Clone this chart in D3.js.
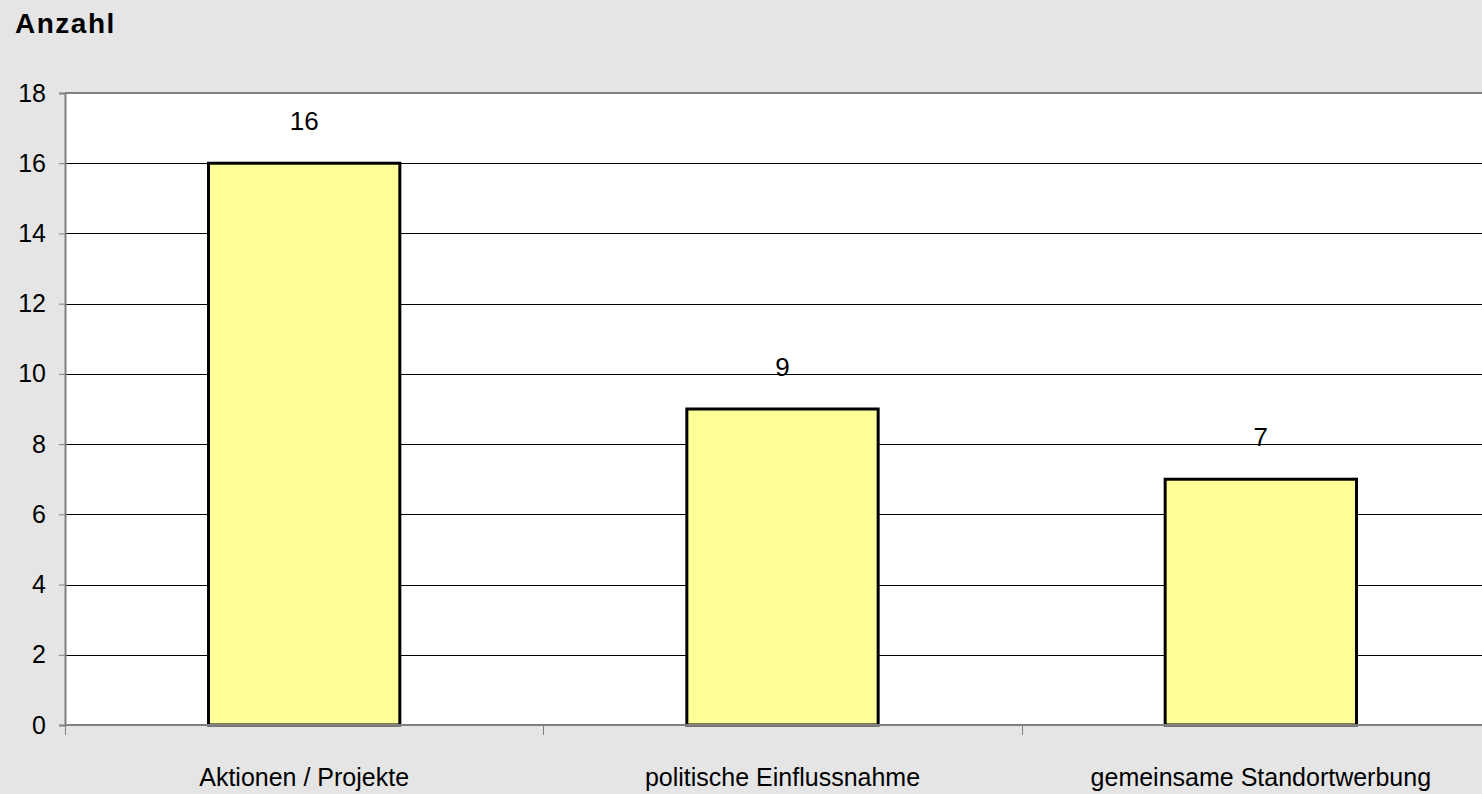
<!DOCTYPE html>
<html lang="de">
<head>
<meta charset="UTF-8">
<script src="https://d3js.org/d3.v7.min.js"></script>
<title>Anzahl</title>
<style>
    body { margin: 0; background: #e5e5e5; }
    svg { display: block; }
    text { font-family: "Liberation Sans", Arial, sans-serif; fill: #000; }
</style>
</head>
<body>
<div id="chart"></div>
<script>
// chart data
var categories = ["Aktionen / Projekte", "politische Einflussnahme", "gemeinsame Standortwerbung"];
var counts = [16, 9, 7];
var yTicks = [0, 2, 4, 6, 8, 10, 12, 14, 16, 18];

var width = 1482, height = 794;
var margin = {top: 93, left: 65, bottom: 69};
var plotRight = 1500; // plot area runs past the window edge

var svg = d3.select("#chart").append("svg")
    .attr("width", width)
    .attr("height", height);

var x = d3.scaleBand()
    .domain(categories)
    .range([margin.left, plotRight])
    .paddingInner(0)
    .paddingOuter(0);

var y = d3.scaleLinear()
    .domain([0, 18])
    .range([height - margin.bottom, margin.top]);

// plot background
svg.append("rect")
    .attr("x", margin.left)
    .attr("y", y(18))
    .attr("width", plotRight - margin.left)
    .attr("height", y(0) - y(18))
    .attr("fill", "#fff");

// gridlines
svg.append("g")
    .selectAll("line")
    .data(yTicks.filter(function (d) { return d > 0 && d < 18; }))
    .enter().append("line")
    .attr("x1", margin.left)
    .attr("x2", plotRight)
    .attr("y1", function (d) { return Math.round(y(d)) + 0.5; })
    .attr("y2", function (d) { return Math.round(y(d)) + 0.5; })
    .attr("stroke", "#000")
    .attr("stroke-width", 1);

// top border of plot
svg.append("line")
    .attr("x1", margin.left).attr("x2", plotRight)
    .attr("y1", y(18)).attr("y2", y(18))
    .attr("stroke", "#808080").attr("stroke-width", 2);

// bars
svg.append("g")
    .selectAll("rect")
    .data(counts)
    .enter().append("rect")
    .attr("x", function (d, i) { return x(categories[i]) + x.bandwidth() * 0.3; })
    .attr("width", x.bandwidth() * 0.4)
    .attr("y", function (d) { return y(d); })
    .attr("height", function (d) { return y(0) - y(d); })
    .attr("fill", "#ffff99")
    .attr("stroke", "#000")
    .attr("stroke-width", 3);

// value labels
svg.append("g")
    .selectAll("text")
    .data(counts)
    .enter().append("text")
    .attr("x", function (d, i) { return x(categories[i]) + x.bandwidth() / 2; })
    .attr("y", function (d) { return y(d) - 33; })
    .attr("text-anchor", "middle")
    .style("font-size", "26px")
    .text(function (d) { return d; });

// y axis
var yAxis = svg.append("g")
    .attr("transform", "translate(" + margin.left + ",0)")
    .call(d3.axisLeft(y).tickValues(yTicks).tickSize(6).tickPadding(13));
yAxis.select(".domain").attr("stroke", "#808080").attr("stroke-width", 2);
yAxis.selectAll(".tick line").attr("stroke", "#808080");
yAxis.selectAll(".tick text")
    .style("font-size", "25px")
    .attr("fill", "#000")
    .attr("font-family", null);

// x axis
var xTickPos = categories.map(function (c) { return x(c); });
var xAxis = svg.append("g")
    .attr("transform", "translate(0," + y(0) + ")");
xAxis.append("line")
    .attr("x1", margin.left).attr("x2", plotRight)
    .attr("stroke", "#808080").attr("stroke-width", 2);
xAxis.selectAll(".tk")
    .data(xTickPos)
    .enter().append("line")
    .attr("class", "tk")
    .attr("x1", function (d) { return Math.round(d) + 0.5; })
    .attr("x2", function (d) { return Math.round(d) + 0.5; })
    .attr("y1", 0).attr("y2", 10)
    .attr("stroke", "#808080");
xAxis.selectAll(".lbl")
    .data(categories)
    .enter().append("text")
    .attr("class", "lbl")
    .attr("x", function (d) { return x(d) + x.bandwidth() / 2; })
    .attr("y", 61)
    .attr("text-anchor", "middle")
    .style("font-size", "25px")
    .text(function (d) { return d; });

// y axis title
svg.append("text")
    .attr("x", 15)
    .attr("y", 33)
    .style("font-size", "28px")
    .style("font-weight", "bold")
    .style("letter-spacing", "1.5px")
    .text("Anzahl");
</script>
</body>
</html>
